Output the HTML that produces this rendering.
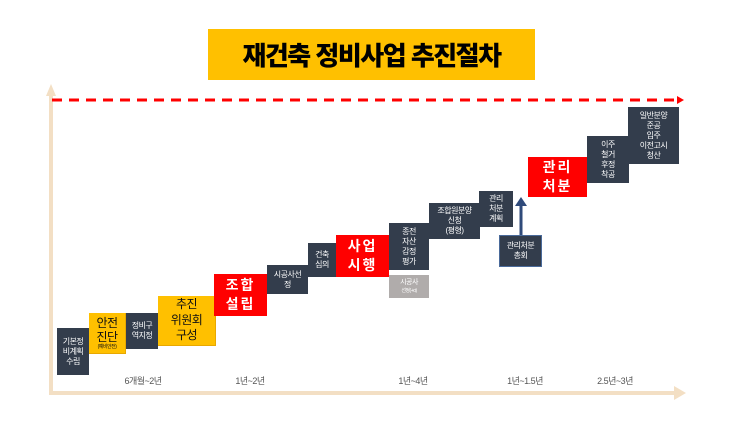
<!DOCTYPE html>
<html><head><meta charset="utf-8"><style>
*{margin:0;padding:0;box-sizing:border-box}
body{width:750px;height:442px;background:#fff;position:relative;overflow:hidden;font-family:"Liberation Sans","Noto Sans CJK KR",sans-serif}
.b{position:absolute;display:flex;flex-direction:column;align-items:center;justify-content:center;text-align:center;line-height:1.25;color:#fff;font-size:8px;letter-spacing:-0.5px}
.d{background:#333d4c}
.y{background:#ffc000;color:#111;border-right:1px solid #e8a800;border-bottom:1px solid #e8a800}
.r{background:#ff0000;font-size:14px;font-weight:bold;line-height:1.35;letter-spacing:2px}
.l{position:absolute;top:374px;font-size:9px;color:#555;transform:translateX(-50%);white-space:nowrap;letter-spacing:-0.5px}
</style></head><body>
<div style="position:absolute;left:208px;top:29px;width:327px;height:51px;background:#ffc000;display:flex;align-items:center;justify-content:center;font-size:26px;font-weight:900;color:#000;letter-spacing:-1.5px">재건축 정비사업 추진절차</div>
<svg width="750" height="442" style="position:absolute;left:0;top:0">
<line x1="51" y1="394" x2="51" y2="95" stroke="#f3dfc4" stroke-width="4"/>
<polygon points="46,96 56,96 51,84" fill="#f3dfc4"/>
<line x1="49" y1="393" x2="676" y2="393" stroke="#f3dfc4" stroke-width="4"/>
<polygon points="674,386 674,400 686,393" fill="#f3dfc4"/>
<line x1="52" y1="100" x2="678" y2="100" stroke="#ff0000" stroke-width="3" stroke-dasharray="10,7"/>
<polygon points="677,96 677,104 684,100" fill="#ff0000"/>
<line x1="521" y1="236" x2="521" y2="204" stroke="#2f4a7a" stroke-width="3"/>
<polygon points="515,206 527,206 521,197" fill="#2f4a7a"/>
</svg>
<div class="b d" style="left:57px;top:328px;width:32px;height:47px">기본정<br>비계획<br>수립</div>
<div class="b y" style="left:89px;top:313px;width:37px;height:41px;font-size:12px;line-height:1.2">안전<br>진단<span style="font-size:5px">(예비안전)</span></div>
<div class="b d" style="left:126px;top:313px;width:32px;height:36px">정비구<br>역지정</div>
<div class="b y" style="left:158px;top:296px;width:58px;height:50px;font-size:12px;line-height:1.3">추진<br>위원회<br>구성</div>
<div class="b r" style="left:214px;top:274px;width:53px;height:42px">조합<br>설립</div>
<div class="b d" style="left:267px;top:265px;width:41px;height:29px">시공사선<br>정</div>
<div class="b d" style="left:308px;top:243px;width:28px;height:34px">건축<br>심의</div>
<div class="b r" style="left:336px;top:235px;width:53px;height:42px">사업<br>시행</div>
<div class="b d" style="left:389px;top:223px;width:40px;height:47px">종전<br>자산<br>감정<br>평가</div>
<div class="b" style="left:389px;top:275px;width:40px;height:23px;background:#b0acab;font-size:7px">시공사<br><span style="font-size:5px">선정(+α)</span></div>
<div class="b d" style="left:429px;top:203px;width:51px;height:36px">조합원분양<br>신청<br>(평형)</div>
<div class="b d" style="left:479px;top:191px;width:34px;height:36px">관리<br>처분<br>계획</div>
<div class="b d" style="left:499px;top:235px;width:43px;height:32px;border:1px solid #4a6a9a">관리처분<br>총회</div>
<div class="b r" style="left:528px;top:157px;width:59px;height:40px">관리<br>처분</div>
<div class="b d" style="left:587px;top:136px;width:42px;height:47px">이주<br>철거<br>후정<br>착공</div>
<div class="b d" style="left:628px;top:107px;width:51px;height:57px">일반분양<br>준공<br>입주<br>이전고시<br>청산</div>
<div class="l" style="left:143px">6개월~2년</div>
<div class="l" style="left:250px">1년~2년</div>
<div class="l" style="left:413px">1년~4년</div>
<div class="l" style="left:525px">1년~1.5년</div>
<div class="l" style="left:615px">2.5년~3년</div>
</body></html>
